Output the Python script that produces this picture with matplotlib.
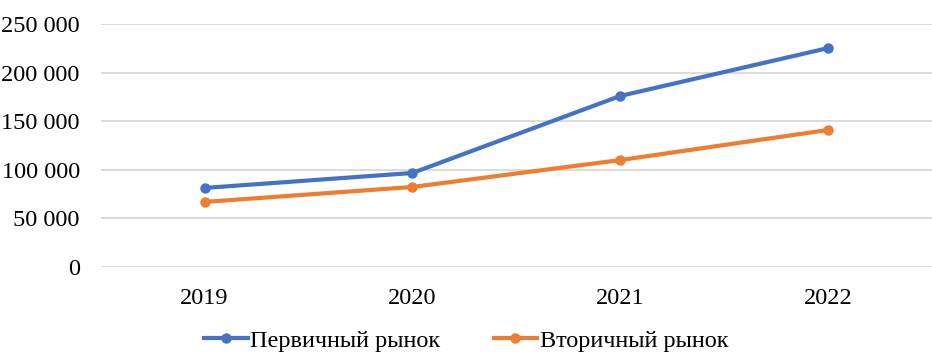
import matplotlib.pyplot as plt
from matplotlib.ticker import FuncFormatter

years = ['2019', '2020', '2021', '2022']
primary = [81300, 96700, 176000, 225300]
secondary = [66900, 82300, 110000, 141000]
labels = ['Первичный рынок', 'Вторичный рынок']

plt.rcParams['font.family'] = ['Liberation Serif', 'DejaVu Serif']

fig = plt.figure(figsize=(9.32, 3.54), dpi=100)
ax = fig.add_axes([0.108, 0.246, 0.892, 0.686])

x = range(len(years))
ax.plot(x, primary, color='#4472C4', lw=3, marker='o', ms=6.5, label=labels[0])
ax.plot(x, secondary, color='#ED7D31', lw=3, marker='o', ms=6.5, label=labels[1])

ax.set_xlim(-0.5, len(years) - 0.5)
ax.set_ylim(0, 250000)
ax.set_yticks(range(0, 250001, 50000))
ax.yaxis.set_major_formatter(FuncFormatter(lambda v, p: f'{int(v):,}'.replace(',', ' ')))
ax.set_xticks(list(x))
ax.set_xticklabels(years)
ax.tick_params(axis='both', length=0, labelsize=17.5, colors='black')
ax.tick_params(axis='x', pad=15)
ax.tick_params(axis='y', pad=15)
ax.grid(axis='y', color='#D9D9D9', lw=1.3)
ax.set_axisbelow(True)
for s in ax.spines.values():
    s.set_visible(False)

fig.legend(loc='lower center', bbox_to_anchor=(0.5, -0.055), ncol=2, frameon=False,
           fontsize=17.5, handlelength=1.8, handletextpad=0.1, columnspacing=2.2)

fig.savefig('out.png', dpi=100)
